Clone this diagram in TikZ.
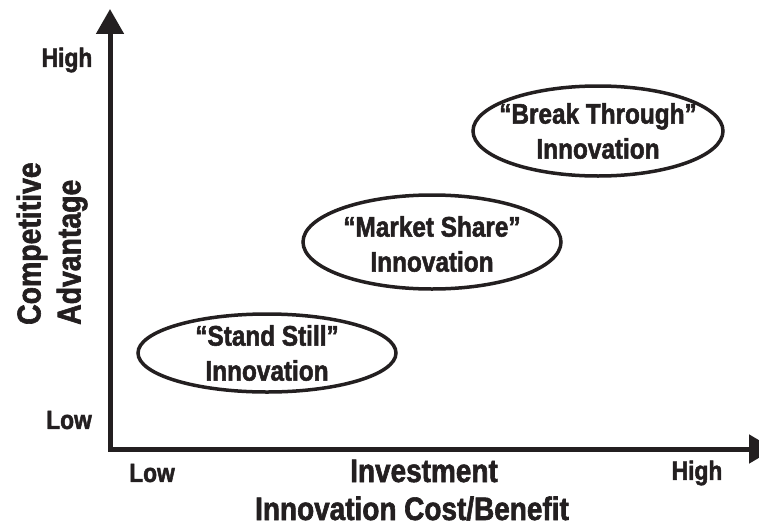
\documentclass[tikz,border=0pt]{standalone}
\usepackage{fontspec}
\newfontfamily\hv{Liberation Sans Bold}[FakeStretch=0.86,FakeBold=1.8]
\usetikzlibrary{arrows.meta,shapes.geometric}
\definecolor{ink}{HTML}{231F20}
\begin{document}
\begin{tikzpicture}[x=1pt,y=-1pt,
  lbl/.style={font=\hv\fontsize{26.5}{30}\selectfont,text=ink,inner sep=0pt},
  big/.style={font=\hv\fontsize{32.5}{38}\selectfont,text=ink,inner sep=0pt},
  oval/.style={ellipse,draw=ink,line width=3.5pt,inner sep=0pt},
  otxt/.style={align=center,inner sep=0pt,font=\hv\fontsize{28.3}{35}\selectfont,text=ink},
  axis/.style={draw=ink,line width=5pt,line join=miter}]
\useasboundingbox (0,0) rectangle (759,527);
\coordinate (orig) at (110,449);
\coordinate (ytip) at (110,9);
\coordinate (xtip) at (774,449);
\draw[axis,{Triangle[length=25pt,width=27pt]}-{Triangle[length=25pt,width=28pt]}] (ytip) -- (orig) -- (xtip);
\node[lbl] (yhigh) at (67,60) {High};
\node[lbl] (ylow) at (69,420) {Low};
\node[lbl] (xlow) at (152,473) {Low};
\node[lbl] (xhigh) at (697,473) {High};
\node[big,anchor=base] (inv) at (424,482) {Investment};
\node[big,anchor=base] (icb) at (412,520) {Innovation Cost/Benefit};
\node[big,rotate=90,align=left,anchor=west,font=\hv\fontsize{33}{40}\selectfont] (ca) at (52,325) {Competitive\\Advantage};
\node[oval,minimum width=258pt,minimum height=78pt] (ss) at (267,353) {};
\node[oval,minimum width=258pt,minimum height=94pt] (ms) at (432,242) {};
\node[oval,minimum width=250pt,minimum height=90pt] (bt) at (598,131) {};
\node[otxt] (sst) at (ss.center) {“Stand Still”\\Innovation};
\node[otxt] (mst) at ([yshift=-2pt]ms.center) {“Market Share”\\Innovation};
\node[otxt] (btt) at (bt.center) {“Break Through”\\Innovation};
\end{tikzpicture}
\end{document}
